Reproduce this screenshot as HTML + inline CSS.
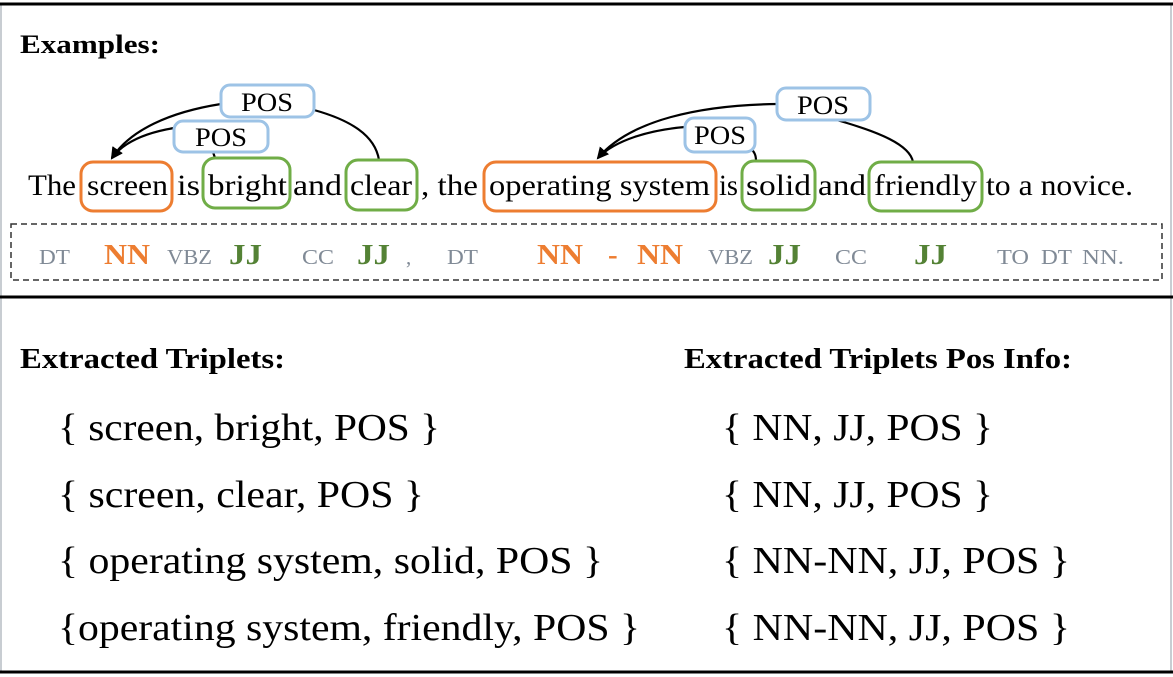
<!DOCTYPE html>
<html><head><meta charset="utf-8"><style>
body{margin:0;background:#fff;}
svg{display:block;}
text{font-family:"Liberation Serif",serif;}
</style></head><body>
<svg width="1173" height="677" viewBox="0 0 1173 677" xmlns="http://www.w3.org/2000/svg">
<defs><marker id="a" markerWidth="12" markerHeight="12" refX="10" refY="6" orient="auto" markerUnits="userSpaceOnUse"><path d="M0,0 L12,6 L0,12 Z" fill="#000"/></marker></defs>
<rect x="0" y="0" width="1173" height="677" fill="#fff"/>
<line x1="1" y1="4" x2="1" y2="672" stroke="#c8cdd2" stroke-width="2"/>
<line x1="1171" y1="4" x2="1171" y2="672" stroke="#c8cdd2" stroke-width="2"/>
<line x1="0" y1="4" x2="1173" y2="4" stroke="#000" stroke-width="3"/>
<line x1="0" y1="297" x2="1173" y2="297" stroke="#000" stroke-width="3"/>
<line x1="0" y1="672" x2="1173" y2="672" stroke="#000" stroke-width="3"/>
<g lengthAdjust="spacingAndGlyphs">
<text x="20" y="53" font-size="26" font-weight="bold" textLength="140" lengthAdjust="spacingAndGlyphs">Examples:</text>
</g>
<g fill="none" stroke="#000" stroke-width="2.2">
<path d="M221,104 C170,112 130,130 112,158" marker-end="url(#a)"/>
<path d="M174,128 C150,132 125,140 112,158" marker-end="url(#a)"/>
<path d="M314,110 C350,120 375,135 379,160"/>
<path d="M213,152 L215,158"/>
<path d="M777,104 C700,105 630,120 598,158" marker-end="url(#a)"/>
<path d="M685,127 C650,130 615,140 598,158"/>
<path d="M833,119 C880,132 910,145 913,162"/>
<path d="M750,148 C755,152 756,156 756,161"/>
</g>
<g fill="#fff" stroke="#9dc3e6" stroke-width="3">
<rect x="221" y="85" width="93" height="32" rx="9"/>
<rect x="174" y="121" width="94" height="31" rx="9"/>
<rect x="777" y="88" width="93" height="32" rx="9"/>
<rect x="685" y="118" width="70" height="34" rx="9"/>
</g>
<g font-size="26">
<text x="241" y="111" textLength="52" lengthAdjust="spacingAndGlyphs">POS</text>
<text x="195" y="146" textLength="52" lengthAdjust="spacingAndGlyphs">POS</text>
<text x="797" y="114" textLength="52" lengthAdjust="spacingAndGlyphs">POS</text>
<text x="694" y="144" textLength="52" lengthAdjust="spacingAndGlyphs">POS</text>
</g>
<g fill="none" stroke-width="3">
<rect x="81" y="162" width="91" height="49" rx="12" stroke="#ed7d31"/>
<rect x="484" y="162" width="232" height="49" rx="12" stroke="#ed7d31"/>
<rect x="203" y="158" width="87" height="50" rx="12" stroke="#70ad47"/>
<rect x="346" y="160" width="71" height="50" rx="12" stroke="#70ad47"/>
<rect x="742" y="161" width="73" height="49" rx="12" stroke="#70ad47"/>
<rect x="869" y="162" width="113" height="49" rx="12" stroke="#70ad47"/>
</g>
<g font-size="30">
<text x="28" y="195" textLength="48" lengthAdjust="spacingAndGlyphs">The</text>
<text x="87" y="195" textLength="81" lengthAdjust="spacingAndGlyphs">screen</text>
<text x="177" y="195" textLength="23" lengthAdjust="spacingAndGlyphs">is</text>
<text x="208" y="195" textLength="79" lengthAdjust="spacingAndGlyphs">bright</text>
<text x="293" y="195" textLength="49" lengthAdjust="spacingAndGlyphs">and</text>
<text x="350" y="195" textLength="62" lengthAdjust="spacingAndGlyphs">clear</text>
<text x="421" y="195" textLength="57" lengthAdjust="spacingAndGlyphs">, the</text>
<text x="489" y="195" textLength="221" lengthAdjust="spacingAndGlyphs">operating system</text>
<text x="719" y="195" textLength="19" lengthAdjust="spacingAndGlyphs">is</text>
<text x="746" y="195" textLength="65" lengthAdjust="spacingAndGlyphs">solid</text>
<text x="818" y="195" textLength="48" lengthAdjust="spacingAndGlyphs">and</text>
<text x="874" y="195" textLength="103" lengthAdjust="spacingAndGlyphs">friendly</text>
<text x="986" y="195" textLength="147" lengthAdjust="spacingAndGlyphs">to a novice.</text>
</g>
<rect x="11" y="224" width="1151" height="56" fill="none" stroke="#333" stroke-width="1.5" stroke-dasharray="6,4"/>
<g font-size="21" fill="#808a96">
<text x="39" y="264" textLength="31" lengthAdjust="spacingAndGlyphs">DT</text>
<text x="167" y="264" textLength="45" lengthAdjust="spacingAndGlyphs">VBZ</text>
<text x="302" y="264" textLength="32" lengthAdjust="spacingAndGlyphs">CC</text>
<text x="406" y="264">,</text>
<text x="447" y="264" textLength="31" lengthAdjust="spacingAndGlyphs">DT</text>
<text x="708" y="264" textLength="45" lengthAdjust="spacingAndGlyphs">VBZ</text>
<text x="835" y="264" textLength="32" lengthAdjust="spacingAndGlyphs">CC</text>
<text x="997" y="264" textLength="32" lengthAdjust="spacingAndGlyphs">TO</text>
<text x="1041" y="264" textLength="31" lengthAdjust="spacingAndGlyphs">DT</text>
<text x="1082" y="264" textLength="42" lengthAdjust="spacingAndGlyphs">NN.</text>
</g>
<g font-size="29" font-weight="bold" fill="#ed7d31">
<text x="104" y="264" textLength="46" lengthAdjust="spacingAndGlyphs">NN</text>
<text x="537" y="264" textLength="46" lengthAdjust="spacingAndGlyphs">NN</text>
<text x="608" y="264">-</text>
<text x="637" y="264" textLength="46" lengthAdjust="spacingAndGlyphs">NN</text>
</g>
<g font-size="29" font-weight="bold" fill="#548235">
<text x="229" y="264" textLength="33" lengthAdjust="spacingAndGlyphs">JJ</text>
<text x="357" y="264" textLength="33" lengthAdjust="spacingAndGlyphs">JJ</text>
<text x="768" y="264" textLength="33" lengthAdjust="spacingAndGlyphs">JJ</text>
<text x="914" y="264" textLength="33" lengthAdjust="spacingAndGlyphs">JJ</text>
</g>
<text x="20" y="368" font-size="28" font-weight="bold" textLength="265" lengthAdjust="spacingAndGlyphs">Extracted Triplets:</text>
<text x="684" y="368" font-size="28" font-weight="bold" textLength="388" lengthAdjust="spacingAndGlyphs">Extracted Triplets Pos Info:</text>
<g font-size="38">
<text x="58" y="440" textLength="382" lengthAdjust="spacingAndGlyphs">{ screen, bright, POS }</text>
<text x="58" y="507" textLength="366" lengthAdjust="spacingAndGlyphs">{ screen, clear, POS }</text>
<text x="58" y="573" textLength="545" lengthAdjust="spacingAndGlyphs">{ operating system, solid, POS }</text>
<text x="58" y="640" textLength="582" lengthAdjust="spacingAndGlyphs">{operating system, friendly, POS }</text>
<text x="722" y="440" textLength="271" lengthAdjust="spacingAndGlyphs">{ NN, JJ, POS }</text>
<text x="722" y="507" textLength="271" lengthAdjust="spacingAndGlyphs">{ NN, JJ, POS }</text>
<text x="722" y="573" textLength="348" lengthAdjust="spacingAndGlyphs">{ NN-NN, JJ, POS }</text>
<text x="722" y="640" textLength="348" lengthAdjust="spacingAndGlyphs">{ NN-NN, JJ, POS }</text>
</g>
</svg>
</body></html>
